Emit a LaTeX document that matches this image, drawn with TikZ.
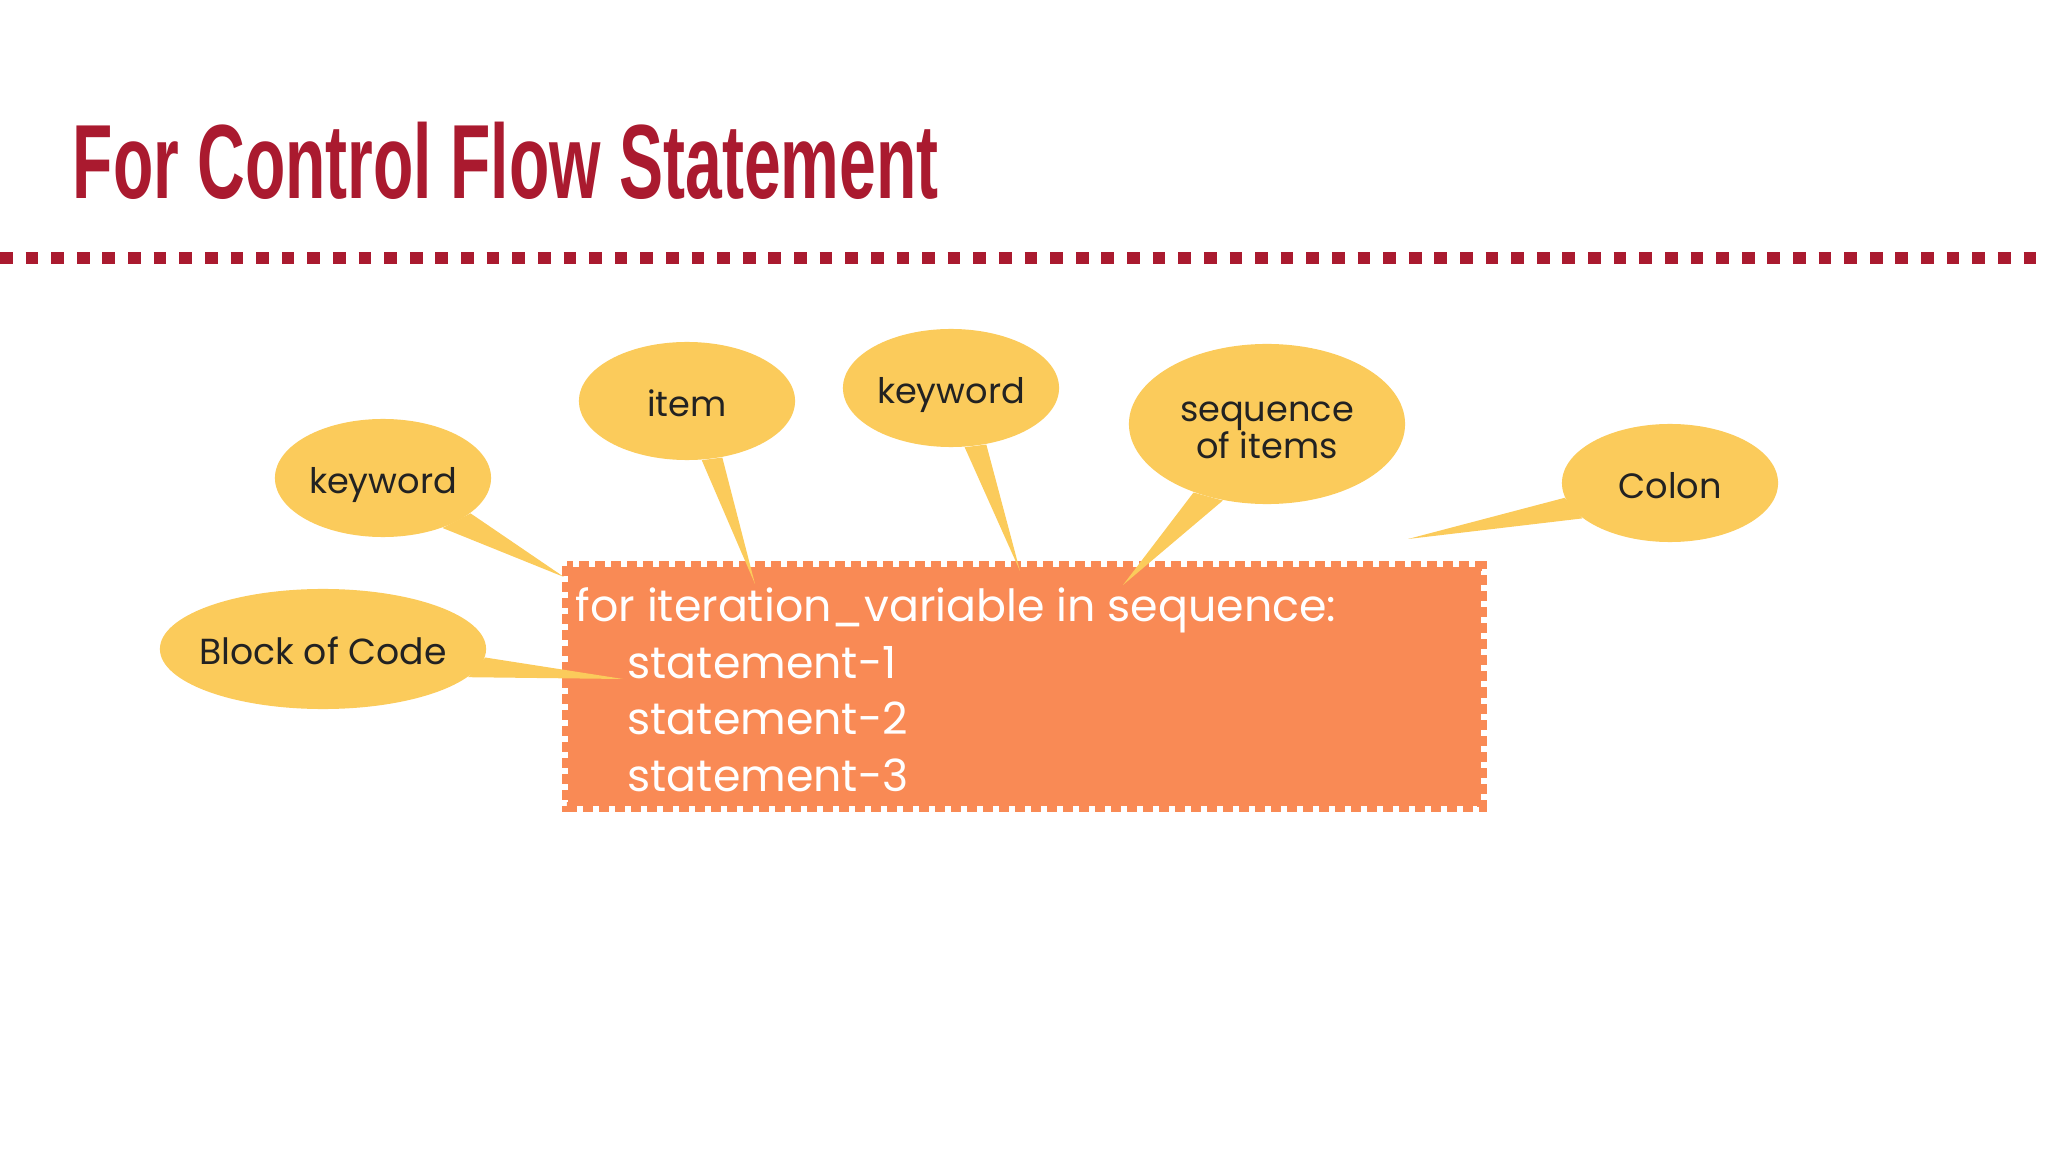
\documentclass[tikz,border=0pt]{standalone}
\usepackage{fontspec}
\setmainfont{Poppins}
\newfontfamily\titlefont{Liberation Sans}
\usetikzlibrary{shapes.geometric,positioning}

\definecolor{titlered}{HTML}{AA1A2F}
\definecolor{bubbleyellow}{HTML}{FBCB5B}
\definecolor{codeorange}{HTML}{F98A55}
\definecolor{labelink}{HTML}{222222}

\begin{document}
\begin{tikzpicture}[x=0.01cm, y=-0.01cm,
  bubble/.style={ellipse, fill=bubbleyellow, inner sep=0pt, text=labelink,
    font=\fontsize{10}{10.5}\selectfont, align=center},
  oneline/.style={text height=1.15em, text depth=0.25em},
  tail/.style={fill=bubbleyellow},
  codeline/.style={anchor=base west, text=white, inner sep=0pt,
    font=\fontsize{12.6}{16}\selectfont}]

\useasboundingbox (0,0) rectangle (2048,1152);

% ===== TITLE AND RULE =====
\node[anchor=base west, inner sep=0pt, text=titlered] (title) at (72,199)
  {\titlefont\bfseries\fontsize{30}{36}\selectfont\scalebox{0.626}[1]{For Control Flow Statement}};

\coordinate (ruleL) at (0,258);
\coordinate (ruleR) at (2048,258);
\draw[titlered, line width=0.127cm, dash pattern=on 0.127cm off 0.129cm] (ruleL) -- (ruleR);

% ===== CODE BOX =====
\node[rectangle, fill=codeorange, minimum width=9.13cm, minimum height=2.39cm, inner sep=0pt] (box) at (1024.5,686.5) {};
\draw[codeorange, line width=0.1cm, dash pattern=on 0.1cm off 0.06cm] (box.north west) rectangle (box.south east);

% ===== BUBBLES =====
\node[bubble, oneline, minimum width=2.16cm, minimum height=1.18cm] (kwA) at (383,478) {keyword};
\node[bubble, oneline, minimum width=2.16cm, minimum height=1.18cm] (item) at (687,401) {item};
\node[bubble, oneline, minimum width=2.16cm, minimum height=1.18cm] (kwB) at (951,388) {keyword};
\node[bubble, minimum width=2.76cm, minimum height=1.60cm] (seq) at (1267,424) {\rule{0pt}{9.3pt}sequence\\of items};
\node[bubble, oneline, minimum width=2.16cm, minimum height=1.18cm] (colon) at (1670,483) {Colon};
\node[bubble, oneline, minimum width=3.26cm, minimum height=1.20cm, inner xsep=-6pt,
  font=\fontsize{10.3}{10.5}\selectfont] (block) at (323,649) {Block of Code};

% tips of the tails
\coordinate (kwAtip) at (564,577);
\coordinate (itemtip) at (755,584);
\coordinate (kwBtip) at (1020,571);
\coordinate (seqtip) at (1123,585);
\coordinate (colontip) at (1408,539);
\coordinate (blocktip) at (623,679);

\fill[tail] (kwA.-40) -- (kwAtip) -- (kwA.-22) -- cycle;
\fill[tail] (item.-76) -- (itemtip) -- (item.-58) -- cycle;
\fill[tail] (kwB.-77) -- (kwBtip) -- (kwB.-58) -- cycle;
\fill[tail] (seq.-137) -- (seqtip) -- (seq.-120) -- cycle;
\fill[tail] (colon.-172) -- (colontip) -- (colon.-158) -- cycle;
\fill[tail] (block.-3) -- (blocktip) -- (block.-11) -- cycle;

% ===== CODE TEXT =====
\node[codeline] (forline) at (575,622) {for iteration\_variable in sequence:};
\node[codeline] (stmtA) at (627,678) {statement-1};
\node[codeline] (stmtB) at (627,734) {statement-2};
\node[codeline] (stmtC) at (627,791) {statement-3};

\end{tikzpicture}
\end{document}
